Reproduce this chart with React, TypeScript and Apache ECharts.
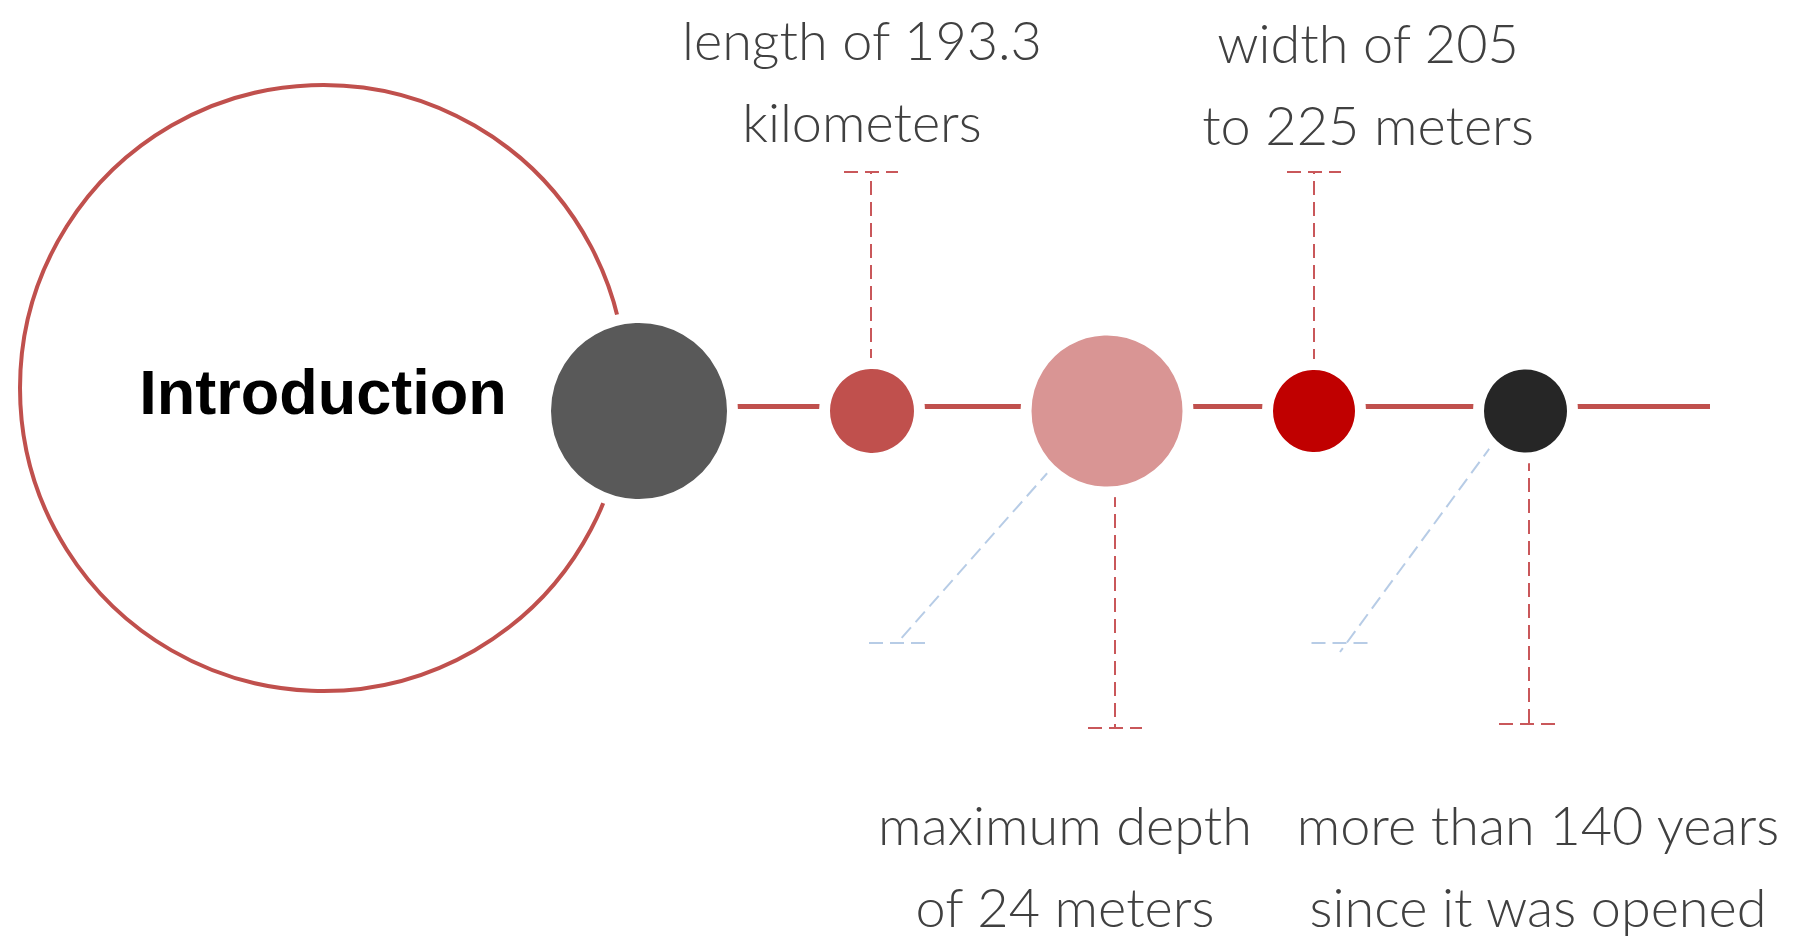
import React, { useEffect, useRef } from "react";
import * as echarts from "echarts";

// ---- diagram data (units of the hidden value axes) ----
const introCenter = [323, 388];
const introRadius = 303;
const introLabel = "Introduction";

const stopNames = ["Start", "Length", "Depth", "Width", "Age"];
const stopX = [639, 872, 1107, 1314, 1525.5];
const stopY = 411;
const stopRadius = [88, 42, 75.5, 41, 41.5];
const stopColors = ["#595959", "#C0504D", "#D99594", "#C00000", "#262626"];

const channelY = 406.5;
const channelEndX = 1710;

const calloutTexts = [
  "length of 193.3\nkilometers",
  "width of 205\nto 225 meters",
  "maximum depth\nof 24 meters",
  "more than 140 years\nsince it was opened",
];
const calloutX = [862, 1368, 1065, 1538];
const calloutY = [80, 83, 865, 865];

// red vertical leaders: x, y start, y end (cap at the end)
const redLeaderX = [871, 1314, 1115, 1529];
const redLeaderFrom = [363, 363, 493, 457];
const redLeaderTo = [172, 172, 728, 724];
const redCapHalf = [27, 27, 27, 30];

// blue diagonal leaders
const blueFrom = [
  [1050, 470],
  [1492, 445],
];
const blueTo = [
  [898, 642],
  [1340, 652],
];
const blueCapY = [643, 643];
const blueCapX = [898, 1340.5];
const blueCapHalf = [29, 29];

const BORDER = 11;
const TEXT_FONT = 'Lato, "Noto Sans", sans-serif';

export default function App() {
  const ref = useRef<HTMLDivElement>(null);

  useEffect(() => {
    document.body.style.margin = "0";
    document.body.style.overflow = "hidden";
    const chart = echarts.init(ref.current!, null, { renderer: "svg" });

    const redSegs: any[] = [];
    redLeaderX.forEach((x, i) => {
      redSegs.push({ coords: [[x, redLeaderFrom[i]], [x, redLeaderTo[i]]] });
      redSegs.push({
        coords: [
          [x - redCapHalf[i], redLeaderTo[i]],
          [x + redCapHalf[i], redLeaderTo[i]],
        ],
      });
    });
    const blueSegs: any[] = [];
    blueFrom.forEach((p, i) => {
      blueSegs.push({ coords: [p, blueTo[i]] });
      blueSegs.push({
        coords: [
          [blueCapX[i] - blueCapHalf[i], blueCapY[i]],
          [blueCapX[i] + blueCapHalf[i], blueCapY[i]],
        ],
      });
    });

    chart.setOption({
      animation: false,
      grid: { left: 0, right: 0, top: 0, bottom: 0 },
      xAxis: { type: "value", min: 0, max: 1794, show: false },
      yAxis: { type: "value", min: 0, max: 951, inverse: true, show: false },
      series: [
        {
          type: "scatter",
          silent: true,
          z: 1,
          symbol: "circle",
          symbolSize: introRadius * 2,
          itemStyle: {
            color: "rgba(0,0,0,0)",
            borderColor: "#C0504D",
            borderWidth: 4,
            opacity: 1,
          },
          data: [introCenter],
        },
        {
          type: "line",
          silent: true,
          z: 2,
          symbol: "none",
          lineStyle: { color: "#C0504D", width: 5, opacity: 1 },
          data: [
            [stopX[0], channelY],
            [channelEndX, channelY],
          ],
        },
        {
          type: "lines",
          coordinateSystem: "cartesian2d",
          silent: true,
          z: 2,
          lineStyle: { color: "#C9575A", width: 2, type: [14, 7], opacity: 1 },
          data: redSegs,
        },
        {
          type: "lines",
          coordinateSystem: "cartesian2d",
          silent: true,
          z: 2,
          lineStyle: { color: "#B7CCE6", width: 2, type: [14, 7], opacity: 1 },
          data: blueSegs,
        },
        {
          type: "scatter",
          silent: true,
          z: 3,
          symbol: "circle",
          data: stopX.map((x, i) => ({
            name: stopNames[i],
            value: [x, stopY],
            symbolSize: stopRadius[i] * 2 + BORDER,
            itemStyle: {
              color: stopColors[i],
              borderColor: "#ffffff",
              borderWidth: BORDER,
              opacity: 1,
            },
          })),
        },
        {
          type: "scatter",
          silent: true,
          z: 4,
          symbolSize: 0,
          itemStyle: { color: "rgba(0,0,0,0)", opacity: 1 },
          label: {
            show: true,
            position: "inside",
            formatter: introLabel,
            fontFamily: '"Liberation Sans", Arial, sans-serif',
            fontWeight: "bold",
            fontSize: 63,
            color: "#000000",
          },
          data: [[introCenter[0], 392]],
        },
        {
          type: "scatter",
          silent: true,
          z: 4,
          symbolSize: 0,
          itemStyle: { color: "rgba(0,0,0,0)", opacity: 1 },
          label: {
            show: true,
            position: "inside",
            formatter: (p: any) => calloutTexts[p.dataIndex],
            fontFamily: TEXT_FONT,
            fontWeight: 300,
            fontSize: 54,
            lineHeight: 82,
            color: "#404040",
            align: "center",
            verticalAlign: "middle",
          },
          data: calloutX.map((x, i) => [x, calloutY[i]]),
        },
      ],
    });
    return () => chart.dispose();
  }, []);

  return <div ref={ref} style={{ width: 1794, height: 951 }} />;
}
